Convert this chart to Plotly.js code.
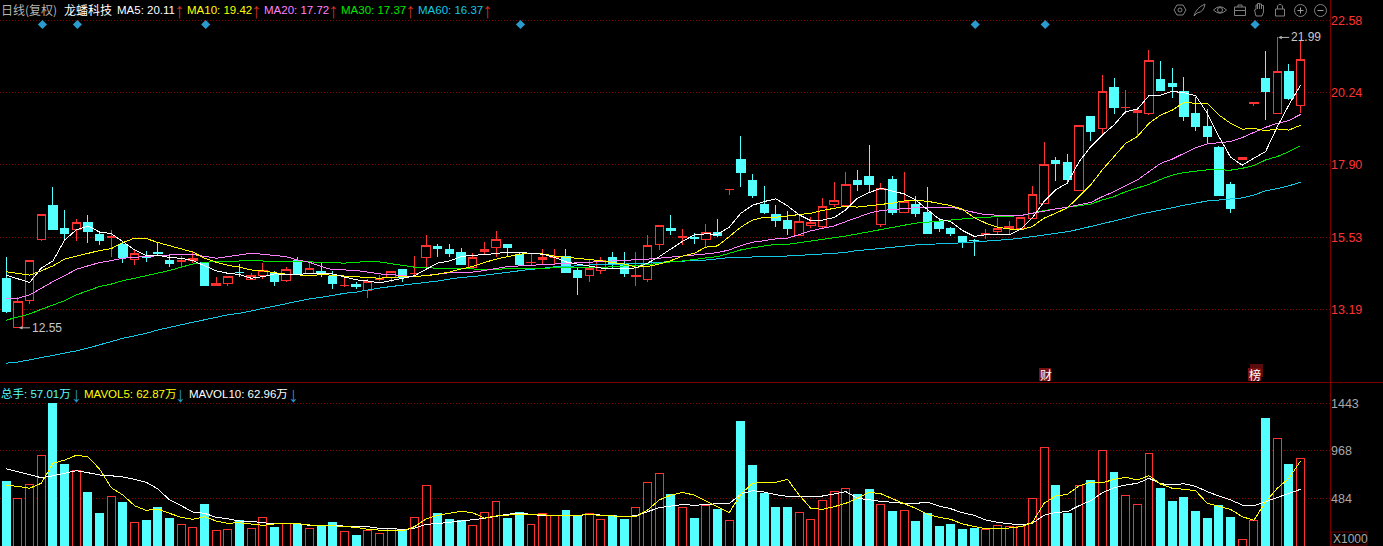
<!DOCTYPE html>
<html><head><meta charset="utf-8">
<script src="https://cdn.plot.ly/plotly-3.0.1.min.js"></script>
<style>html,body{margin:0;padding:0;background:#000;overflow:hidden}#c{width:1383px;height:546px}
.scatterlayer .js-line,.boxlayer path,.barlayer path{shape-rendering:crispEdges}</style>
</head><body><div id="c"></div>
<script>
const opens=[14.19,12.61,13.50,15.46,16.56,15.81,15.79,16.03,15.62,15.53,15.29,14.83,14.92,15.05,14.80,14.75,14.77,14.73,13.97,14.05,14.41,14.18,14.30,14.37,14.13,14.79,14.36,14.44,14.27,13.96,14.02,13.82,14.17,14.25,14.50,14.35,14.88,15.23,15.15,15.03,14.55,15.07,15.20,15.32,14.97,14.71,14.81,14.89,14.92,14.45,14.30,14.46,14.89,14.64,14.26,14.18,15.30,15.81,15.53,15.53,15.48,15.70,17.08,18.05,17.40,16.59,16.27,16.10,15.61,15.92,15.89,16.59,16.56,17.37,17.53,15.94,17.43,16.34,16.59,16.33,16.04,15.81,15.55,15.45,15.63,15.74,15.82,15.81,16.16,16.65,18.02,17.98,17.07,19.45,19.08,20.39,19.75,19.58,19.55,20.65,20.55,20.29,19.55,19.15,18.44,17.24,18.08,19.90,20.71,19.55,20.94,19.83];
const highs=[14.91,13.61,14.79,16.29,17.17,16.43,16.14,16.27,15.72,15.78,15.39,15.12,15.09,15.37,14.96,14.93,15.05,14.73,14.24,14.27,14.66,14.37,14.70,14.44,14.57,14.89,14.73,14.70,14.44,14.23,14.08,14.18,14.32,14.44,14.50,14.93,15.62,15.32,15.32,15.18,15.02,15.39,15.75,15.32,15.04,15.02,15.15,15.15,15.15,14.55,14.80,14.89,15.07,15.07,15.07,15.62,15.93,16.27,15.81,15.67,15.97,16.14,17.10,18.83,17.60,17.21,16.59,16.40,16.23,16.19,16.81,17.34,17.66,17.73,18.54,17.30,17.53,17.66,16.88,17.17,16.16,15.88,15.58,15.50,15.81,16.17,16.06,16.19,17.21,18.63,18.14,18.25,19.18,19.45,20.81,20.71,20.32,19.76,21.62,21.27,21.03,20.75,20.11,19.71,18.51,17.33,18.12,19.93,21.59,22.03,21.17,21.90];
const lows=[13.09,12.60,13.38,15.43,15.78,15.43,15.43,15.37,15.29,14.91,14.72,14.65,14.75,14.96,14.59,14.55,14.72,13.97,13.97,13.97,14.24,14.16,14.20,13.96,14.10,14.30,14.36,14.26,13.86,13.94,13.86,13.58,14.12,14.10,14.10,14.26,14.48,14.91,14.90,14.63,14.55,14.97,14.89,14.93,14.61,14.64,14.67,14.67,14.41,13.67,14.09,14.36,14.53,14.25,13.96,14.10,15.13,15.62,15.29,15.32,15.19,15.56,16.91,17.17,16.82,16.30,15.88,15.62,15.61,15.84,15.80,16.52,16.56,17.05,17.01,15.87,16.27,16.34,16.20,15.65,15.71,15.58,15.19,14.93,15.49,15.62,15.62,15.78,16.16,16.65,17.37,17.33,17.07,18.67,18.86,19.53,19.55,18.79,19.51,20.32,20.06,19.33,18.99,18.60,16.91,16.34,18.08,19.80,19.35,19.55,20.00,19.57];
const closes=[13.13,13.46,14.79,16.29,15.78,15.65,16.03,15.72,15.43,15.58,14.88,15.02,14.88,15.02,14.68,14.80,14.86,13.97,14.03,14.27,14.39,14.31,14.45,14.12,14.50,14.35,14.53,14.41,14.03,13.98,13.93,14.12,14.19,14.44,14.24,14.37,15.28,15.16,15.00,14.64,14.89,15.15,15.48,15.20,14.64,14.73,14.89,14.93,14.41,14.25,14.53,14.79,14.64,14.35,14.31,15.28,15.93,15.75,15.58,15.51,15.70,15.59,17.10,17.63,16.91,16.36,16.07,15.81,16.06,16.03,16.55,16.74,17.26,17.27,17.24,17.13,16.33,16.70,16.30,15.65,15.84,15.65,15.39,15.43,15.67,15.83,15.90,16.19,16.94,17.91,17.95,17.43,19.18,18.99,20.28,19.77,19.77,19.67,21.29,20.32,20.45,19.45,19.15,18.80,16.91,16.46,18.12,19.93,20.26,20.93,20.06,21.32];
const ma5=[14.31,14.18,14.07,14.54,14.77,15.45,15.78,15.91,15.71,15.66,15.40,15.13,14.94,14.96,14.88,14.86,14.78,14.61,14.45,14.37,14.33,14.21,14.26,14.35,14.35,14.33,14.37,14.37,14.35,14.25,14.16,14.12,14.06,14.13,14.21,14.29,14.50,14.70,14.77,14.91,14.96,14.97,15.02,15.05,15.05,15.01,14.99,14.89,14.74,14.67,14.61,14.54,14.53,14.51,14.55,14.70,14.91,15.15,15.41,15.62,15.65,15.64,15.87,16.32,16.58,16.70,16.79,16.56,16.27,16.08,16.10,16.18,16.43,16.81,16.99,17.13,17.05,16.95,16.75,16.43,16.13,16.05,15.76,15.57,15.62,15.63,15.62,15.81,16.17,16.70,17.08,17.30,17.99,18.48,18.86,19.19,19.62,19.70,20.14,20.16,20.28,20.23,20.14,19.57,18.81,18.14,17.88,18.11,18.32,19.13,19.84,20.48];
const ma10=[14.42,14.37,14.31,14.45,14.61,14.83,14.93,15.02,15.11,15.17,15.37,15.51,15.50,15.37,15.27,15.18,15.06,14.86,14.73,14.63,14.57,14.48,14.45,14.39,14.34,14.32,14.29,14.33,14.31,14.27,14.25,14.24,14.21,14.24,14.25,14.26,14.29,14.34,14.41,14.51,14.59,14.72,14.83,14.91,14.99,15.02,15.00,14.93,14.89,14.86,14.83,14.78,14.72,14.67,14.57,14.59,14.67,14.78,14.93,15.02,15.22,15.26,15.56,15.87,16.10,16.19,16.19,16.23,16.27,16.32,16.41,16.49,16.55,16.52,16.56,16.60,16.65,16.72,16.74,16.71,16.65,16.57,16.45,16.18,16.00,15.87,15.81,15.78,15.89,16.16,16.32,16.50,16.86,17.24,17.73,18.16,18.59,18.81,19.24,19.51,19.67,19.92,19.89,19.89,19.51,19.24,19.05,19.08,19.00,19.06,19.02,19.18];
const ma20=[13.54,13.56,13.67,13.89,14.10,14.29,14.50,14.61,14.72,14.78,14.86,14.89,14.91,14.93,14.96,14.99,14.98,14.91,14.86,14.91,14.96,15.02,14.99,14.94,14.91,14.80,14.73,14.59,14.48,14.48,14.46,14.41,14.35,14.33,14.29,14.26,14.30,14.34,14.39,14.39,14.41,14.46,14.52,14.59,14.61,14.63,14.64,14.66,14.68,14.70,14.73,14.75,14.77,14.77,14.79,14.83,14.86,14.89,14.92,14.97,15.00,15.04,15.13,15.27,15.38,15.43,15.49,15.51,15.62,15.75,15.83,15.91,16.05,16.18,16.32,16.41,16.44,16.49,16.50,16.50,16.52,16.52,16.43,16.34,16.27,16.26,16.24,16.25,16.32,16.41,16.46,16.52,16.60,16.67,16.86,17.02,17.21,17.40,17.67,17.94,18.08,18.27,18.45,18.57,18.61,18.65,18.78,18.95,19.11,19.24,19.33,19.53];
const ma30=[12.85,12.94,13.05,13.20,13.35,13.48,13.67,13.80,13.94,14.02,14.13,14.21,14.29,14.37,14.46,14.57,14.67,14.72,14.76,14.76,14.78,14.78,14.77,14.74,14.74,14.75,14.74,14.73,14.72,14.70,14.73,14.75,14.74,14.68,14.63,14.57,14.55,14.53,14.52,14.51,14.51,14.50,14.50,14.52,14.53,14.54,14.54,14.54,14.55,14.55,14.55,14.55,14.59,14.62,14.63,14.65,14.70,14.74,14.77,14.83,14.87,14.91,15.02,15.13,15.20,15.26,15.31,15.31,15.36,15.41,15.48,15.52,15.58,15.65,15.72,15.80,15.87,15.94,16.00,16.03,16.07,16.10,16.14,16.17,16.19,16.21,16.22,16.24,16.32,16.41,16.46,16.52,16.56,16.62,16.75,16.86,17.02,17.13,17.26,17.42,17.56,17.64,17.69,17.73,17.73,17.72,17.78,17.87,18.05,18.16,18.32,18.51];
const ma60=[11.45,11.49,11.56,11.63,11.70,11.77,11.85,11.94,12.05,12.14,12.26,12.34,12.42,12.53,12.62,12.69,12.78,12.86,12.94,13.02,13.07,13.15,13.24,13.32,13.40,13.48,13.54,13.59,13.66,13.72,13.76,13.83,13.89,13.94,13.98,14.03,14.08,14.12,14.18,14.24,14.26,14.31,14.36,14.42,14.47,14.50,14.53,14.58,14.59,14.62,14.64,14.64,14.65,14.66,14.67,14.70,14.73,14.75,14.77,14.77,14.80,14.84,14.88,14.89,14.91,14.91,14.91,14.93,14.94,14.97,14.99,15.02,15.05,15.11,15.14,15.18,15.22,15.26,15.29,15.31,15.32,15.33,15.36,15.39,15.41,15.43,15.47,15.51,15.56,15.62,15.67,15.72,15.80,15.89,15.97,16.06,16.16,16.27,16.34,16.43,16.50,16.58,16.65,16.72,16.75,16.78,16.82,16.91,17.05,17.12,17.21,17.33];
const volume=[648,483,624,918,1447,830,766,546,334,503,445,240,263,385,283,220,189,425,159,169,260,179,290,192,226,220,179,195,233,149,111,159,129,175,159,290,614,334,273,260,209,341,452,283,341,220,331,307,364,311,324,270,311,273,392,645,736,526,392,283,405,374,260,1265,810,536,385,385,341,270,462,554,584,526,567,422,354,361,253,334,202,213,172,182,169,209,199,195,483,999,617,334,614,668,968,749,513,422,938,587,455,486,354,283,405,293,68,260,1295,1090,820,888];
const mavol5=[614,604,584,635,837,870,918,904,779,590,516,408,361,374,331,290,270,297,253,230,236,220,209,223,223,226,213,205,205,197,189,169,159,152,155,195,273,311,331,351,337,283,304,314,321,321,317,304,307,307,324,307,304,297,297,364,466,516,541,516,455,392,337,526,635,645,645,675,516,382,371,398,432,483,543,529,476,428,382,321,290,270,223,202,175,182,182,195,236,432,506,523,607,645,638,675,695,668,711,627,584,574,560,432,398,371,297,260,448,584,685,860];
const mavol10=[782,752,726,691,711,736,762,742,719,711,698,675,645,577,466,408,344,331,290,276,253,250,233,223,226,226,209,209,209,202,195,195,179,179,165,179,220,226,240,256,266,280,304,321,334,321,307,307,307,307,321,314,304,297,307,347,388,405,420,412,422,428,428,526,560,546,519,503,503,503,506,526,550,483,466,452,442,432,432,442,405,377,337,311,263,240,226,213,230,311,341,347,408,458,539,590,617,635,685,630,620,630,604,550,506,466,415,408,448,493,533,574];
const noticeIndex=[3,6,17,44,83,89,107];
const noticeLevel=22.45;
const priceTicks=[22.58,20.24,17.90,15.53,13.19];
const volumeTicks=[1443,968,484];
const volumeTickText=['1443','968','484'];
const lowPoint={index:1,value:12.60,label:'12.55'};
const highPoint={index:109,value:22.03,label:'21.99'};

const W=1383,H=546,PW=1330;
const RED='#ff3232',CYAN='#54ffff',GRID='#8c0000',FRAME='#7a0000';
const FONT='"Liberation Sans","Noto Sans CJK SC",Arial,sans-serif';
const CJK='"Noto Sans CJK SC","Liberation Sans",sans-serif';
const xs=closes.map((_,i)=>i);
const up=closes.map((c,i)=>c>=opens[i]);
const fx=x=>x/PW, fy=y=>1-y/H;

function line(y,color,xa,ya){return {type:'scatter',mode:'lines',x:xs,y:y,xaxis:xa,yaxis:ya,line:{color:color,width:1},hoverinfo:'skip'};}

const traces=[
 {type:'bar',x:xs,y:volume,xaxis:'x2',yaxis:'y2',width:0.68,hoverinfo:'skip',
  marker:{color:up.map(u=>u?'#000000':CYAN),line:{color:up.map(u=>u?RED:CYAN),width:1}}},
 {type:'candlestick',x:xs,open:opens,high:highs,low:lows,close:closes,xaxis:'x',yaxis:'y',whiskerwidth:0,hoverinfo:'skip',
  increasing:{line:{color:RED,width:1},fillcolor:'#000000'},
  decreasing:{line:{color:CYAN,width:1},fillcolor:CYAN}},
 line(ma60,'#14c8e6','x','y'),
 line(ma30,'#00e600','x','y'),
 line(ma20,'#ff80ff','x','y'),
 line(ma10,'#ffff00','x','y'),
 line(ma5,'#ffffff','x','y'),
 line(mavol10,'#ffffff','x2','y2'),
 line(mavol5,'#ffff00','x2','y2'),
 {type:'scatter',mode:'markers',x:noticeIndex.map(i=>i+0.1),y:noticeIndex.map(()=>noticeLevel),xaxis:'x',yaxis:'y',hoverinfo:'skip',
  marker:{symbol:'diamond',size:7,color:'#2a9bcf'}}
];

function label(html,px,py,color,opt){opt=opt||{};
 return Object.assign({xref:'paper',yref:'paper',x:fx(px),y:fy(py),xanchor:opt.anchor||'left',yanchor:'middle',showarrow:false,
  text:html,align:'left',borderpad:0,font:{family:opt.family||FONT,size:opt.size||11.5,color:color}},opt.extra||{});}
const ARROW='"Liberation Sans","DejaVu Sans",sans-serif';
function arrow(ch,px,py,color){return label(ch,px,py,color,{family:ARROW,size:21,anchor:'center'});}

const annotations=[
 label('日线(复权)',0,9.5,'#b4b4b4',{family:CJK,size:12}),
 label('龙蟠科技',63,9.5,'#ffffff',{family:CJK,size:12}),
 label('MA5: 20.11',116,9.5,'#ffffff'),arrow('↑',179,10,'#d03020'),
 label('MA10: 19.42',186,9.5,'#ffff00'),arrow('↑',256,10,'#d03020'),
 label('MA20: 17.72',263,9.5,'#ff80ff'),arrow('↑',333,10,'#d03020'),
 label('MA30: 17.37',340,9.5,'#00e600'),arrow('↑',410,10,'#d03020'),
 label('MA60: 16.37',417,9.5,'#14c8e6'),arrow('↑',487,10,'#d03020'),
 label('总手: 57.01万',0,393.5,CYAN),arrow('↓',76,394,'#2a9bcf'),
 label('MAVOL5: 62.87万',83,393.5,'#ffff00'),arrow('↓',181,394,'#2a9bcf'),
 label('MAVOL10: 62.96万',188,393.5,'#ffffff'),arrow('↓',293,394,'#2a9bcf'),
 label('财',1039,374.5,'#ffffff',{family:CJK,size:12}),
 label('榜',1248,374.5,'#ffffff',{family:CJK,size:12}),
 label('X1000',1332,538.5,'#a8a8a8',{size:12}),
 {xref:'x',yref:'y',x:lowPoint.index,y:lowPoint.value,text:lowPoint.label,showarrow:true,ax:12,ay:0,xanchor:'left',yanchor:'middle',
  arrowhead:2,arrowsize:0.7,arrowwidth:1,arrowcolor:'#b4b4b4',standoff:1,font:{family:FONT,size:12,color:'#c8c8c8'}},
 {xref:'x',yref:'y',x:highPoint.index,y:highPoint.value,text:highPoint.label,showarrow:true,ax:12,ay:0,xanchor:'left',yanchor:'middle',
  arrowhead:2,arrowsize:0.7,arrowwidth:1,arrowcolor:'#b4b4b4',standoff:1,font:{family:FONT,size:12,color:'#c8c8c8'}}
];

const IC='#808080';
function rectS(x0,y0,x1,y1,opt){return Object.assign({type:'rect',xref:'paper',yref:'paper',x0:fx(x0),x1:fx(x1),y0:fy(y0),y1:fy(y1),line:{color:IC,width:1}},opt||{});}
function circ(cx,cy,r,opt){return Object.assign({type:'circle',xref:'paper',yref:'paper',x0:fx(cx-r),x1:fx(cx+r),y0:fy(cy-r),y1:fy(cy+r),line:{color:IC,width:1}},opt||{});}
function pathS(d,opt){return Object.assign({type:'path',xref:'paper',yref:'paper',
  path:d.replace(/(-?[\d.]+)[ ,](-?[\d.]+)/g,(m,x,y)=>fx(+x).toFixed(6)+','+fy(+y).toFixed(6)),line:{color:IC,width:1}},opt||{});}
function hline(x0,x1,y,color){return {type:'line',xref:'paper',yref:'paper',x0:fx(x0),x1:fx(x1),y0:fy(y),y1:fy(y),line:{color:color,width:1}};}
function vline(x,y0,y1,color){return {type:'line',xref:'paper',yref:'paper',x0:fx(x),x1:fx(x),y0:fy(y0),y1:fy(y1),line:{color:color,width:1}};}

const shapes=[
 hline(0,W,382.5,FRAME),
 vline(1330.5,0,H,FRAME),
 rectS(1039,368,1051,381,{fillcolor:'#7a1010',line:{width:0},layer:'below'}),
 rectS(1250,364,1263,377,{fillcolor:'#5a0c0c',line:{width:0},layer:'below'}),
 rectS(1248,368,1261,381,{fillcolor:'#7a1010',line:{width:0},layer:'below'}),
 rectS(1331.5,532,1367,545,{line:{color:'#6a0000',width:1}}),
 pathS('M1177 5 L1183 5 L1186 10 L1183 15 L1177 15 L1174 10 Z'),circ(1180,10,2),
 pathS('M1194 16 Q1196 8 1205 4 Q1204 12 1197 13 L1194 16 Z'),
 pathS('M1213.5 10 Q1220 3.5 1226.5 10 Q1220 16.5 1213.5 10 Z'),circ(1220,10,2.5),
 rectS(1234.5,7,1245.5,15.5),pathS('M1238 7 L1238 5 L1242 5 L1242 7'),hline(1234.5,1245.5,10.5,IC),
 pathS('M1256 16 L1254.5 10 L1256 9.5 L1256 5 L1257.5 5 L1257.5 9 L1257.5 3.5 L1259.5 3.5 L1259.5 9 L1259.5 4 L1261.5 4 L1261.5 9 L1261.5 5.5 L1263.5 5.5 L1263.5 12 L1262 16 Z'),
 rectS(1275.5,9,1284.5,16),pathS('M1277.5 9 L1277.5 6 Q1280 2.5 1282.5 6 L1282.5 9'),
 circ(1300.5,10.5,6),hline(1297.5,1303.5,10.5,'#a0a0a0'),vline(1300.5,7.5,13.5,'#a0a0a0'),
 circ(1320.5,10.5,6),hline(1317.5,1323.5,10.5,'#a0a0a0')
];

const axisBase={showgrid:false,zeroline:false,showticklabels:false,ticks:'',fixedrange:true,showline:false};
const yBase={side:'right',zeroline:false,fixedrange:true,showline:false,showgrid:true,griddash:'1px,2px',gridcolor:GRID,gridwidth:1,
  tickmode:'array',ticks:'',ticklen:0,ticklabelstandoff:0};
const layout={
 width:W,height:H,margin:{l:0,r:W-PW,t:0,b:0,pad:0},
 paper_bgcolor:'#000000',plot_bgcolor:'#000000',showlegend:false,
 boxmode:'overlay',boxgap:0.28,boxgroupgap:0,bargap:0.3,hovermode:false,
 xaxis:Object.assign({},axisBase,{range:[-0.54,113.525],domain:[0,1],anchor:'y',rangeslider:{visible:false}}),
 xaxis2:Object.assign({},axisBase,{range:[-0.54,113.525],domain:[0,1],anchor:'y2'}),
 yaxis:Object.assign({},yBase,{domain:[1-382/H,1],range:[10.84,23.2456],anchor:'x',tickvals:priceTicks,ticktext:priceTicks.map(v=>v.toFixed(2)),
   tickfont:{family:FONT,size:12.5,color:RED}}),
 yaxis2:Object.assign({},yBase,{domain:[0,1-382/H],range:[0,1660],anchor:'x2',tickvals:volumeTicks,ticktext:volumeTickText,
   tickfont:{family:FONT,size:12.5,color:'#a8a8a8'}}),
 annotations:annotations,shapes:shapes
};
Plotly.newPlot('c',traces,layout,{displayModeBar:false,staticPlot:true});
</script></body></html>
